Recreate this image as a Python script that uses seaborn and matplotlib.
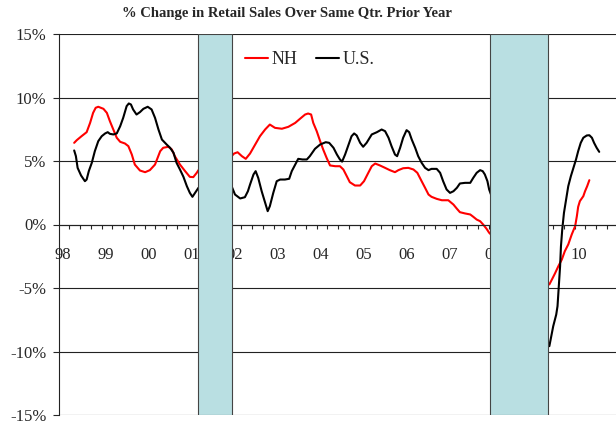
import pandas as pd
import matplotlib
matplotlib.use("Agg")
import matplotlib.pyplot as plt
import seaborn as sns
from matplotlib.ticker import FixedLocator

# Set style
sns.set_style("white")
plt.rcParams['font.family'] = ['Liberation Serif', 'DejaVu Serif']

# -------------------------
# Data, time in decimal years
# -------------------------
nh_t = [1998.26, 1998.32, 1998.43, 1998.55, 1998.63, 1998.70, 1998.76, 1998.82, 1998.94, 1999.02,
        1999.09, 1999.17, 1999.25, 1999.33, 1999.44, 1999.52, 1999.60, 1999.67, 1999.79, 1999.91,
        2000.02, 2000.14, 2000.26, 2000.33, 2000.45, 2000.53, 2000.60, 2000.72, 2000.84, 2000.95,
        2001.03, 2001.11, 2001.15, 2001.30, 2001.53, 2001.77, 2001.92, 2001.98, 2002.06, 2002.16,
        2002.25, 2002.35, 2002.47, 2002.58, 2002.70, 2002.81, 2002.93, 2003.09, 2003.24, 2003.40,
        2003.51, 2003.63, 2003.70, 2003.77, 2003.82, 2003.90, 2003.98, 2004.05, 2004.13, 2004.21,
        2004.33, 2004.44, 2004.52, 2004.60, 2004.67, 2004.79, 2004.91, 2005.00, 2005.10, 2005.18,
        2005.26, 2005.37, 2005.49, 2005.60, 2005.72, 2005.80, 2005.91, 2006.03, 2006.15, 2006.24,
        2006.34, 2006.42, 2006.50, 2006.57, 2006.69, 2006.81, 2006.96, 2007.08, 2007.16, 2007.23,
        2007.35, 2007.47, 2007.54, 2007.62, 2007.70, 2007.77, 2007.85, 2007.91, 2008.63, 2009.21,
        2009.31, 2009.37, 2009.44, 2009.52, 2009.60, 2009.67, 2009.75, 2009.83, 2009.91, 2009.95,
        2009.98, 2010.02, 2010.10, 2010.14, 2010.19, 2010.24]
nh_pct = [6.43, 6.64, 6.95, 7.27, 8.0, 8.79, 9.19, 9.27, 9.11, 8.79,
          8.14, 7.48, 6.83, 6.51, 6.38, 6.17, 5.51, 4.72, 4.25, 4.12,
          4.28, 4.72, 5.77, 6.04, 6.12, 5.91, 5.38, 4.72, 4.2, 3.75,
          3.73, 4.07, 4.28, 4.6, 5.0, 5.2, 5.38, 5.59, 5.69, 5.38,
          5.17, 5.59, 6.3, 6.95, 7.48, 7.87, 7.61, 7.54, 7.69, 8.0,
          8.32, 8.66, 8.74, 8.66, 8.0, 7.35, 6.56, 5.91, 5.25, 4.65,
          4.59, 4.59, 4.33, 3.8, 3.33, 3.07, 3.07, 3.41, 4.07, 4.59,
          4.8, 4.65, 4.46, 4.28, 4.12, 4.28, 4.43, 4.46, 4.33, 4.07,
          3.41, 2.89, 2.36, 2.18, 2.02, 1.91, 1.91, 1.57, 1.24, 0.97,
          0.87, 0.79, 0.61, 0.39, 0.26, 0.0, -0.34, -0.65, -3.0, -4.6,
          -4.72, -4.33, -3.86, -3.28, -2.76, -2.1, -1.57, -0.79, -0.13, 0.66,
          1.39, 1.84, 2.23, 2.62, 3.02, 3.49]

us_t = [1998.26, 1998.30, 1998.34, 1998.42, 1998.51, 1998.55, 1998.60, 1998.67, 1998.74, 1998.82,
        1998.90, 1998.98, 1999.04, 1999.09, 1999.17, 1999.25, 1999.33, 1999.40, 1999.48, 1999.53,
        1999.58, 1999.63, 1999.71, 1999.79, 1999.87, 1999.97, 2000.06, 2000.14, 2000.22, 2000.30,
        2000.41, 2000.49, 2000.57, 2000.64, 2000.72, 2000.80, 2000.88, 2000.95, 2001.01, 2001.07,
        2001.15, 2001.53, 2001.92, 2002.00, 2002.12, 2002.23, 2002.30, 2002.35, 2002.43, 2002.48,
        2002.54, 2002.62, 2002.70, 2002.76, 2002.81, 2002.89, 2002.97, 2003.05, 2003.16, 2003.26,
        2003.32, 2003.40, 2003.47, 2003.57, 2003.67, 2003.74, 2003.86, 2003.98, 2004.11, 2004.19,
        2004.29, 2004.37, 2004.44, 2004.49, 2004.56, 2004.63, 2004.71, 2004.77, 2004.83, 2004.91,
        2004.98, 2005.06, 2005.18, 2005.30, 2005.41, 2005.49, 2005.57, 2005.64, 2005.72, 2005.77,
        2005.84, 2005.91, 2005.99, 2006.05, 2006.11, 2006.19, 2006.26, 2006.34, 2006.42, 2006.50,
        2006.57, 2006.69, 2006.77, 2006.84, 2006.92, 2007.00, 2007.08, 2007.16, 2007.23, 2007.35,
        2007.47, 2007.54, 2007.62, 2007.70, 2007.76, 2007.81, 2007.87, 2007.91, 2008.63, 2009.21,
        2009.31, 2009.34, 2009.40, 2009.47, 2009.50, 2009.53, 2009.56, 2009.58, 2009.61, 2009.65,
        2009.70, 2009.75, 2009.81, 2009.87, 2009.93, 2009.98, 2010.04, 2010.10, 2010.18, 2010.24,
        2010.30, 2010.35, 2010.41, 2010.47]
us_pct = [5.83, 5.38, 4.46, 3.86, 3.41, 3.54, 4.2, 4.86, 5.77, 6.56,
          6.95, 7.17, 7.27, 7.14, 7.09, 7.17, 7.74, 8.4, 9.32, 9.53,
          9.45, 9.06, 8.66, 8.85, 9.11, 9.27, 9.06, 8.4, 7.48, 6.69,
          6.3, 6.04, 5.65, 4.86, 4.33, 3.76, 3.02, 2.49, 2.18, 2.49,
          2.89, 3.2, 3.02, 2.36, 2.05, 2.15, 2.62, 3.15, 3.94, 4.2,
          3.67, 2.62, 1.71, 1.05, 1.44, 2.49, 3.41, 3.54, 3.54, 3.6,
          4.2, 4.72, 5.17, 5.12, 5.12, 5.38, 5.96, 6.3, 6.48, 6.43,
          6.04, 5.51, 5.12, 4.95, 5.51, 6.17, 6.95, 7.17, 7.01, 6.43,
          6.12, 6.43, 7.09, 7.27, 7.48, 7.35, 6.83, 6.17, 5.51, 5.38,
          6.04, 6.83, 7.43, 7.27, 6.69, 6.04, 5.38, 4.86, 4.46, 4.28,
          4.38, 4.38, 4.07, 3.41, 2.76, 2.49, 2.62, 2.89, 3.23, 3.28,
          3.28, 3.67, 4.07, 4.28, 4.2, 3.94, 3.41, 2.76, -4.0, -9.3,
          -9.58, -9.06, -8.01, -7.09, -6.43, -4.86, -3.28, -1.71, -0.39, 0.92,
          1.97, 3.02, 3.8, 4.46, 5.12, 5.77, 6.43, 6.83, 7.01, 7.03,
          6.83, 6.43, 6.04, 5.72]

recession_start = [2001.15, 2007.92]
recession_end = [2001.92, 2009.29]

years = list(range(1998, 2011))
year_labels = [str(y)[-2:] for y in years]
y_ticks = [-15, -10, -5, 0, 5, 10, 15]

df_nh = pd.DataFrame({'t': nh_t, 'pct': nh_pct})
df_us = pd.DataFrame({'t': us_t, 'pct': us_pct})

# -------------------------
# Plot
# -------------------------
fig = plt.figure(figsize=(6.16, 4.25), dpi=100)
ax = fig.add_axes([59 / 616, 10 / 425, 557 / 616, 381 / 425])

sns.lineplot(data=df_nh, x='t', y='pct', color='#FF0000', linewidth=1.5, label='NH', ax=ax, zorder=2)
sns.lineplot(data=df_us, x='t', y='pct', color='black', linewidth=1.5, label='U.S.', ax=ax, zorder=2)

for s, e in zip(recession_start, recession_end):
    ax.axvspan(s, e, facecolor='#B9DFE2', edgecolor='#444444', linewidth=0.8, zorder=3)

ax.set_xlim(1997.907, 2010.86)
ax.set_ylim(-15, 15)

ax.set_yticks(y_ticks)
ax.set_yticklabels([f"{v}%" for v in y_ticks])
ax.yaxis.grid(True, color='#222222', linewidth=0.8)
ax.tick_params(axis='y', direction='out', length=4, width=0.8, pad=5, labelsize=12, left=True)

ax.spines['bottom'].set_position(('data', 0))
ax.spines['bottom'].set_color('#222222')
ax.spines['bottom'].set_linewidth(0.8)
ax.spines['top'].set_visible(False)
ax.spines['right'].set_visible(False)
ax.spines['left'].set_color('#222222')
ax.spines['left'].set_linewidth(0.8)

ax.set_xticks(years)
ax.set_xticklabels(year_labels)
ax.xaxis.set_minor_locator(FixedLocator([1997.9 + 0.25 * k for k in range(52)]))
ax.tick_params(axis='x', which='major', length=0, pad=16, labelsize=12, bottom=True)
ax.tick_params(axis='x', which='minor', direction='out', length=3, width=0.8, bottom=True)

ax.set_xlabel('')
ax.set_ylabel('')

ax.legend(loc='center left', bbox_to_anchor=(0.304, 0.932), ncol=2, frameon=False,
          fontsize=13, handlelength=1.3, handletextpad=0.2, columnspacing=1.0)

fig.text(287 / 616, 1 - 14 / 425, '% Change in Retail Sales Over Same Qtr. Prior Year',
         ha='center', va='center', fontsize=10.5, fontweight='bold')

plt.savefig('out.png', dpi=100)
